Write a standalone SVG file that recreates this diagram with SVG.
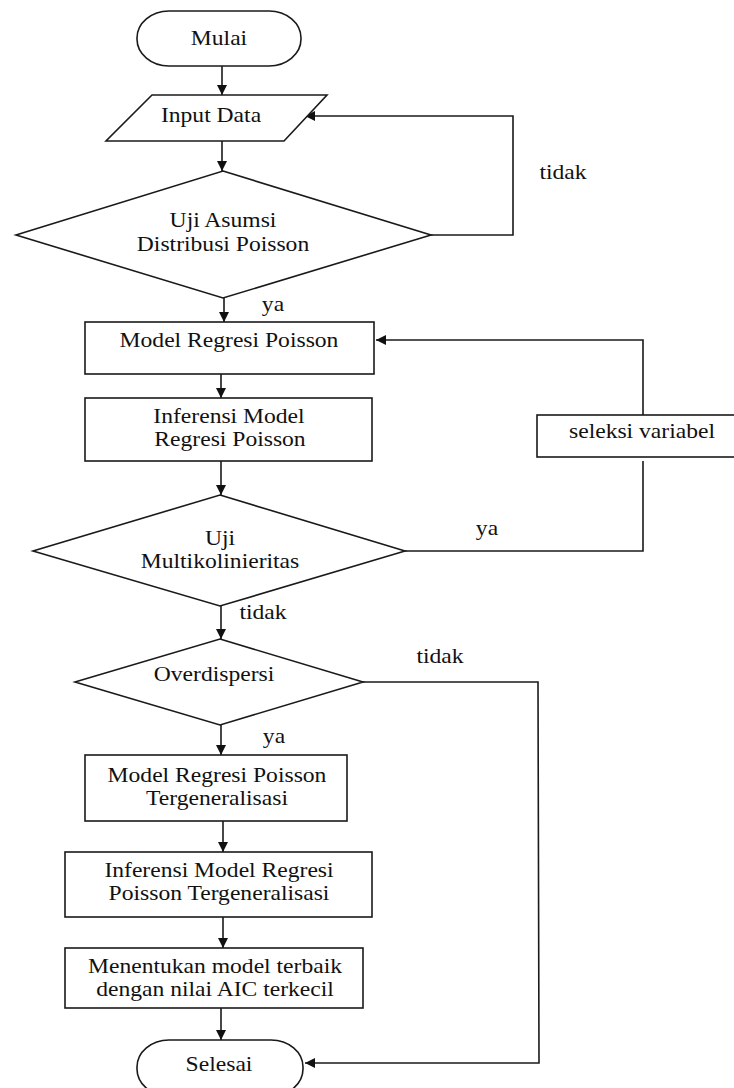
<svg xmlns="http://www.w3.org/2000/svg" width="734" height="1088" viewBox="0 0 734 1088">
<style>
.s{fill:#fff;stroke:#1a1a1a;stroke-width:1.6}
.c{fill:none;stroke:#1a1a1a;stroke-width:1.6}
.a{marker-end:url(#ah)}
text{font-family:"Liberation Serif","Times New Roman",serif;font-size:20px;fill:#111;text-anchor:middle}
</style>
<defs>
<marker id="ah" viewBox="0 0 10 10" refX="10" refY="5" markerWidth="10" markerHeight="10" markerUnits="userSpaceOnUse" orient="auto">
<path d="M0,0 L10,5 L0,10 z" fill="#111"/>
</marker>
</defs>
<rect width="734" height="1088" fill="#fff"/>
<g id="connectors">
<line class="c a" x1="222" y1="66" x2="222" y2="95"/>
<line class="c a" x1="222" y1="141" x2="222" y2="171"/>
<polyline class="c a" points="431,235 513,235 513,116 305,116"/>
<line class="c a" x1="224" y1="298" x2="224" y2="322"/>
<polyline class="c a" points="643,415 643,340 376,340"/>
<line class="c a" x1="221" y1="374" x2="221" y2="398"/>
<line class="c a" x1="221" y1="461" x2="221" y2="495"/>
<polyline class="c" points="405,551 643,551 643,461"/>
<line class="c a" x1="221" y1="606" x2="221" y2="639"/>
<polyline class="c a" points="363,682 538,682 539,1063 305,1063"/>
<line class="c a" x1="221" y1="725" x2="221" y2="755"/>
<line class="c a" x1="223" y1="821" x2="223" y2="852"/>
<line class="c a" x1="223" y1="917" x2="223" y2="948"/>
<line class="c a" x1="221" y1="1008" x2="221" y2="1040"/>
<text transform="translate(563,179) scale(1.18 1)">tidak</text>
<text transform="translate(273,311) scale(1.18 1)">ya</text>
<text transform="translate(487,535) scale(1.18 1)">ya</text>
<text transform="translate(263,619) scale(1.18 1)">tidak</text>
<text transform="translate(440,663) scale(1.18 1)">tidak</text>
<text transform="translate(274,743) scale(1.18 1)">ya</text>
</g>
<g id="mulai">
<rect class="s" x="137" y="11" width="164" height="55" rx="32" ry="27"/>
<text transform="translate(219,45) scale(1.18 1)">Mulai</text>
</g>
<g id="input">
<polygon class="s" points="152,95 327,95 284,141 106,141"/>
<text transform="translate(211,122) scale(1.18 1)">Input Data</text>
</g>
<g id="uji-asumsi">
<polygon class="s" points="223,171 431,235 223,298 16,235"/>
<text transform="translate(223,227) scale(1.18 1)">Uji Asumsi</text>
<text transform="translate(223,251) scale(1.18 1)">Distribusi Poisson</text>
</g>
<g id="model-rp">
<rect class="s" x="85" y="322" width="289" height="52"/>
<text transform="translate(229,347) scale(1.18 1)">Model Regresi Poisson</text>
</g>
<g id="inferensi-rp">
<rect class="s" x="85" y="398" width="287" height="63"/>
<text transform="translate(229,423) scale(1.18 1)">Inferensi Model</text>
<text transform="translate(230,446) scale(1.18 1)">Regresi Poisson</text>
</g>
<g id="seleksi">
<rect class="s" x="537" y="415" width="200" height="42"/>
<text transform="translate(642,438) scale(1.18 1)">seleksi variabel</text>
</g>
<g id="multiko">
<polygon class="s" points="220,495 405,551 220,606 33,551"/>
<text transform="translate(220,545) scale(1.18 1)">Uji</text>
<text transform="translate(220,568) scale(1.18 1)">Multikolinieritas</text>
</g>
<g id="overdispersi">
<polygon class="s" points="220,639 363,682 220,725 75,682"/>
<text transform="translate(214,681) scale(1.18 1)">Overdispersi</text>
</g>
<g id="model-gp">
<rect class="s" x="85" y="755" width="262" height="66"/>
<text transform="translate(217,782) scale(1.18 1)">Model Regresi Poisson</text>
<text transform="translate(217,805) scale(1.18 1)">Tergeneralisasi</text>
</g>
<g id="inferensi-gp">
<rect class="s" x="65" y="852" width="307" height="65"/>
<text transform="translate(219,877) scale(1.18 1)">Inferensi Model Regresi</text>
<text transform="translate(219,900) scale(1.18 1)">Poisson Tergeneralisasi</text>
</g>
<g id="aic">
<rect class="s" x="65" y="948" width="298" height="60"/>
<text transform="translate(215,973) scale(1.18 1)">Menentukan model terbaik</text>
<text transform="translate(215,996) scale(1.18 1)">dengan nilai AIC terkecil</text>
</g>
<g id="selesai">
<rect class="s" x="137" y="1040" width="166" height="56" rx="32" ry="27"/>
<text transform="translate(219,1071) scale(1.18 1)">Selesai</text>
</g>
</svg>
